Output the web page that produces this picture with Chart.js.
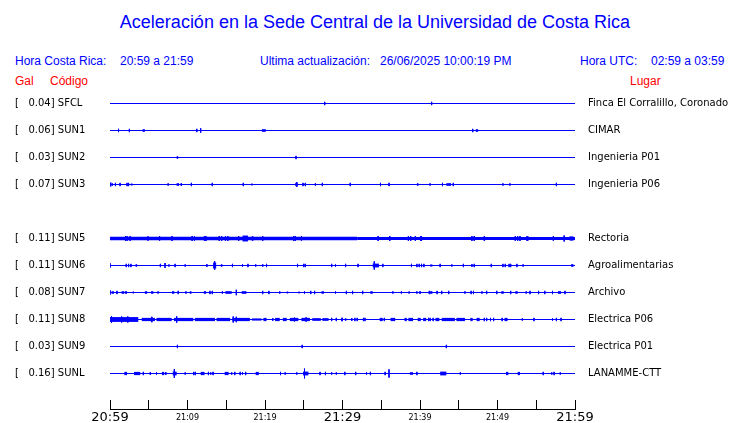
<!DOCTYPE html>
<html><head><meta charset="utf-8">
<script src="https://cdn.jsdelivr.net/npm/chart.js@4.4.1/dist/chart.umd.min.js"></script>
<style>
html,body{margin:0;padding:0;background:#fff;}
#wrap{position:relative;width:740px;height:423px;overflow:hidden;font-family:'Liberation Sans',Arial,sans-serif;}
#c{position:absolute;left:0;top:0;}
.t{position:absolute;white-space:pre;font-size:12px;line-height:12px;color:#0000ff;}
.r{color:#ff0000;}
#title{position:absolute;left:5px;width:740px;text-align:center;top:13px;font-size:18px;line-height:18px;color:#0000ff;white-space:pre;}
</style></head><body>
<div id="wrap">
<div id="title"></div>
<div class="t" style="left:15px;top:55px">Hora Costa Rica:</div>
<div class="t" id="loc" style="left:120px;top:55px"></div>
<div class="t" style="left:260px;top:55px">Ultima actualización:</div>
<div class="t" id="upd" style="left:380px;top:55px"></div>
<div class="t" style="left:580px;top:55px">Hora UTC:</div>
<div class="t" id="utc" style="left:651px;top:55px"></div>
<div class="t r" style="left:15px;top:75px">Gal</div>
<div class="t r" style="left:50px;top:75px">Código</div>
<div class="t r" style="left:630px;top:75px">Lugar</div>
<canvas id="c" width="740" height="423"></canvas>
</div>
<script>
// ---------- DATA ----------
const chartTitle = 'Aceleración en la Sede Central de la Universidad de Costa Rica';
const localRange = '20:59 a 21:59';
const lastUpdate = '26/06/2025 10:00:19 PM';
const utcRange = '02:59 a 03:59';
const timeLabels = ['20:59','21:09','21:19','21:29','21:39','21:49','21:59'];

const codes  = ['SFCL','SUN1','SUN2','SUN3','SUN4','SUN5','SUN6','SUN7','SUN8','SUN9','SUNL'];
const gal    = [0.04, 0.06, 0.03, 0.07, null, 0.11, 0.11, 0.08, 0.11, 0.03, 0.16];
const places = ['Finca El Corralillo, Coronado','CIMAR','Ingenieria P01','Ingenieria P06','',
                'Rectoria','Agroalimentarias','Archivo','Electrica P06','Electrica P01','LANAMME-CTT'];

// spikes: [minute, amplitude]; bursts: [startMinute, endMinute, amplitude]
const spikesSFCL = [[27.7,0.6],[41.5,0.6]];
const burstsSFCL = [];
const spikesSUN1 = [[1.1,0.6],[2.5,0.6],[11.2,0.6],[11.7,0.8],[46.8,0.6]];
const burstsSUN1 = [[4.2,4.5,0.5],[19.6,20.1,0.5],[47.2,47.5,0.5]];
const spikesSUN2 = [[24.0,0.6]];
const burstsSUN2 = [[8.6,8.8,0.5]];
const spikesSUN3 = [[0.1,0.7],[0.3,0.4],[0.7,0.6],[1.3,0.6],[2.2,0.6],[2.4,0.6],[7.5,0.4],[9.2,0.5],[10.5,0.6],[13.2,0.6],[17.2,0.6],[24.1,0.9],[24.9,0.6],[25.2,0.6],[26.5,0.4],[27.4,0.6],[31.0,0.6],[34.9,0.6],[36.0,0.6],[41.3,0.4],[42.9,0.6],[44.3,0.6],[50.7,0.4],[51.6,0.4],[57.6,0.6]];
const burstsSUN3 = [[2.7,2.9,0.4],[8.6,8.9,0.5],[18.2,18.4,0.4],[23.9,24.2,0.6],[39.6,39.8,0.5],[43.4,44.0,0.5]];
const spikesSUN4 = [];
const burstsSUN4 = [];
const spikesSUN5 = [[2.0,0.9],[2.2,0.9],[2.6,0.9],[4.9,0.8],[6.4,0.8],[8.0,0.9],[10.6,0.9],[10.9,0.8],[14.1,0.9],[14.4,0.9],[14.9,0.9],[15.2,0.9],[16.6,0.9],[19.7,0.9],[23.7,0.9],[23.9,0.9],[24.7,0.8],[34.6,0.9],[38.5,0.9],[38.8,0.9],[39.4,0.9],[40.1,0.9],[40.2,0.9],[46.7,0.9],[47.0,0.9],[52.3,0.9],[52.6,0.9],[52.9,0.9],[57.2,0.8],[58.6,1.1]];
const burstsSUN5 = [[0,31.9,0.65],[31.9,60,0.55],[12.1,12.5,0.9],[17.1,17.8,1.1],[18.3,18.5,0.9],[36.0,36.2,0.9],[48.2,48.4,0.9],[53.7,54.0,0.9],[59.3,59.8,0.8]];
const spikesSUN6 = [[0.0,0.8],[2.1,0.6],[2.4,0.6],[2.7,0.6],[6.5,0.6],[7.1,0.9],[8.4,0.6],[9.7,0.4],[12.5,0.5],[13.5,1.6],[15.8,0.6],[17.1,0.4],[17.8,0.6],[18.8,0.4],[20.2,0.6],[24.2,0.6],[25.0,0.6],[25.2,0.6],[28.6,0.6],[29.1,0.4],[30.4,0.6],[32.0,0.6],[34.1,1.5],[35.2,0.6],[38.9,0.6],[39.6,0.6],[39.9,0.6],[40.2,0.6],[40.5,0.6],[42.6,0.6],[45.6,0.6],[46.7,0.5],[47.0,0.6],[49.2,0.6],[50.7,0.6],[51.0,0.6],[51.5,0.6],[51.7,0.6],[52.5,0.6],[53.3,0.4]];
const burstsSUN6 = [[3.3,3.5,0.5],[7.5,7.7,0.5],[13.3,13.7,1.1],[14.3,14.5,0.5],[19.6,19.8,0.5],[33.9,34.7,0.7],[41.3,41.6,0.4],[44.0,44.2,0.5],[59.5,59.8,0.5]];
const spikesSUN7 = [[0.0,0.8],[0.9,0.6],[3.0,0.3],[6.2,0.4],[8.8,0.6],[9.8,0.4],[12.9,0.6],[13.2,0.6],[14.5,0.4],[16.3,1.0],[19.7,0.6],[20.5,0.6],[21.9,0.4],[25.1,0.4],[25.9,0.6],[26.4,0.6],[29.1,0.4],[30.5,0.6],[31.3,0.6],[32.6,0.6],[36.5,0.4],[37.6,0.4],[39.6,0.4],[40.0,0.5],[41.2,0.6],[42.2,0.6],[42.8,0.6],[43.7,0.6],[45.8,0.4],[46.6,0.6],[46.9,0.6],[48.0,0.4],[48.6,0.6],[49.9,0.6],[51.7,0.6],[53.7,0.4],[54.2,0.6],[55.3,0.6],[56.1,0.6],[57.1,0.6],[58.7,0.6]];
const burstsSUN7 = [[0.2,0.5,0.5],[1.5,1.8,0.5],[1.9,2.2,0.5],[4.5,4.8,0.5],[5.3,5.6,0.5],[8.0,8.3,0.5],[10.3,10.5,0.5],[12.1,12.4,0.5],[14.9,15.7,0.5],[17.0,17.6,0.5],[22.8,23.0,0.4],[24.3,24.5,0.4],[27.3,27.6,0.5],[33.6,33.9,0.5],[38.5,38.7,0.5],[41.3,41.6,0.5],[50.5,50.8,0.5],[52.3,52.6,0.5],[57.8,58.2,0.5]];
const spikesSUN8 = [[0.2,1.2],[1.5,1.1],[2.3,1.1],[5.4,1.0],[8.6,1.2],[15.9,1.1],[16.3,1.0],[21.0,0.5],[23.8,0.7],[25.3,0.8],[28.6,0.6],[29.2,0.6],[29.9,0.6],[30.0,0.6],[31.6,0.6],[31.9,0.6],[32.7,0.6],[32.9,0.6],[35.4,0.6],[41.1,0.6],[41.3,0.6],[41.7,0.6],[48.3,0.6],[48.6,0.6],[49.1,0.6],[49.5,0.6],[50.6,0.6],[53.2,0.4],[54.7,0.6],[57.1,0.4],[57.6,0.6],[58.2,0.6]];
const burstsSUN8 = [[0.0,3.65,0.9],[4.1,5.8,0.6],[6.0,7.95,0.6],[8.25,10.75,0.6],[10.95,13.55,0.6],[13.75,15.5,0.6],[15.8,18.05,0.6],[18.3,19.55,0.4],[19.8,20.2,0.6],[21.3,21.9,0.6],[22.3,22.8,0.6],[23.2,24.3,0.6],[24.7,25.8,0.6],[26.1,27.2,0.5],[27.4,28.2,0.5],[30.3,30.5,0.5],[31.1,31.3,0.6],[34.8,35.2,0.6],[36.2,36.8,0.6],[38.0,38.3,0.6],[38.5,39.1,0.6],[39.7,40.1,0.6],[40.4,40.8,0.6],[42.0,42.5,0.6],[42.8,44.5,0.6],[44.7,45.8,0.6],[46.5,46.8,0.6],[47.3,47.7,0.6],[50.9,51.3,0.6]];
const spikesSUN9 = [[8.7,0.6],[24.8,0.6],[43.4,0.6]];
const burstsSUN9 = [];
const spikesSUNL = [[4.3,0.6],[5.2,0.5],[6.0,0.4],[7.2,0.5],[8.3,1.6],[9.7,0.4],[10.8,0.6],[11.0,0.6],[12.7,0.6],[13.0,0.4],[13.3,0.6],[15.7,0.4],[16.1,0.6],[16.8,0.6],[17.1,0.4],[17.5,0.6],[22.0,0.6],[22.6,0.4],[24.1,0.4],[25.1,1.8],[27.1,0.6],[27.8,0.6],[28.6,0.4],[29.2,0.4],[30.3,0.6],[31.7,0.6],[33.1,0.4],[33.6,0.6],[35.5,0.6],[36.0,1.5],[39.6,0.6],[45.2,0.4],[55.9,0.6],[57.0,0.4],[57.3,0.6],[58.1,0.4]];
const burstsSUNL = [[1.85,2.2,0.6],[3.1,3.9,0.6],[6.7,7.0,0.6],[8.1,8.6,0.7],[11.7,12.2,0.6],[14.8,15.3,0.6],[18.8,19.2,0.6],[24.9,25.6,0.7],[38.7,39.1,0.5],[42.6,43.4,0.7],[51.1,51.4,0.6],[52.6,52.9,0.6]];

const allSpikes = [spikesSFCL,spikesSUN1,spikesSUN2,spikesSUN3,spikesSUN4,spikesSUN5,spikesSUN6,spikesSUN7,spikesSUN8,spikesSUN9,spikesSUNL];
const allBursts = [burstsSFCL,burstsSUN1,burstsSUN2,burstsSUN3,burstsSUN4,burstsSUN5,burstsSUN6,burstsSUN7,burstsSUN8,burstsSUN9,burstsSUNL];

// ---------- LAYOUT / STYLE ----------
document.getElementById('title').textContent = chartTitle;
document.getElementById('loc').textContent = localRange;
document.getElementById('upd').textContent = lastUpdate;
document.getElementById('utc').textContent = utcRange;

const ROW = 10, Y_MIN = -5, Y_MAX = 113.148;
const TOP = 90, BOTTOM = 409;
const PX_PER_UNIT = (BOTTOM - TOP) / (Y_MAX - Y_MIN);
const BLUE = '#0000ff';

const datasets = [];
codes.forEach((code, i) => {
  if (gal[i] === null) return;
  const base = i * ROW;
  datasets.push({data: [{x: 0, y: base}, {x: 60, y: base}], borderWidth: 1});
  const sp = [];
  allSpikes[i].forEach(([t, a]) => { sp.push({x: t, y: base - a}, {x: t, y: base + a}, {x: t, y: null}); });
  datasets.push({data: sp, borderWidth: 1});
  const bd = [], widths = [];
  allBursts[i].forEach(([t0, t1, a]) => {
    bd.push({x: t0, y: base}, {x: t1, y: base}, {x: t1, y: null});
    const w = 2 * a * PX_PER_UNIT;
    widths.push(w, w, w);
  });
  datasets.push({data: bd, borderWidth: 1, segment: {borderWidth: ctx => widths[ctx.p0DataIndex]}});
});
datasets.forEach(d => Object.assign(d, {borderColor: BLUE, pointRadius: 0, fill: false, tension: 0, spanGaps: false, borderCapStyle: 'butt', yAxisID: 'y'}));

const rowTicks = scale => { scale.ticks = codes.map((c, i) => gal[i] === null ? null : {value: i * ROW}).filter(Boolean); };
const rowIdx = v => Math.round(v / ROW);
const noPad = s => { s.paddingTop = 0; s.paddingBottom = 0; s.paddingLeft = 0; s.paddingRight = 0; };

new Chart(document.getElementById('c'), {
  type: 'line',
  data: {datasets},
  options: {
    responsive: false, animation: false, events: [],
    layout: {padding: {left: 15, top: TOP, right: 0, bottom: 0}},
    plugins: {legend: {display: false}, tooltip: {enabled: false}, title: {display: false}},
    scales: {
      x: {
        type: 'linear', min: 0, max: 60,
        afterFit: s => { s.height = 423 - BOTTOM; noPad(s); },
        border: {display: true, color: '#000', width: 1},
        grid: {display: true, drawOnChartArea: false, drawTicks: true, tickLength: -9, color: '#000', lineWidth: 1},
        afterBuildTicks: s => { const t = []; for (let m = 0; m <= 60; m += 5) t.push({value: m}); s.ticks = t; },
        ticks: {
          autoSkip: false, maxRotation: 0, padding: 10, color: '#000',
          callback: v => (v % 10 === 0 ? timeLabels[v / 10] : ''),
          font: ctx => (ctx.tick && ctx.tick.value % 30 === 0)
            ? {family: 'DejaVu Sans', size: 13, lineHeight: '16px'}
            : {family: 'DejaVu Sans', size: 8, lineHeight: '16px'}
        }
      },
      y: {
        type: 'linear', position: 'left', reverse: true, min: Y_MIN, max: Y_MAX,
        afterFit: s => { s.width = 95; noPad(s); },
        afterBuildTicks: rowTicks,
        border: {display: false}, grid: {display: false, drawTicks: false, tickLength: 0},
        ticks: {
          autoSkip: false, crossAlign: 'far', padding: 0, color: '#000',
          font: {family: 'DejaVu Sans', size: 10},
          callback: v => { const i = rowIdx(v); return '[' + gal[i].toFixed(2).padStart(7, ' ') + '] ' + codes[i]; }
        }
      },
      y2: {
        type: 'linear', position: 'right', reverse: true, min: Y_MIN, max: Y_MAX,
        afterFit: s => { s.width = 165; noPad(s); },
        afterBuildTicks: rowTicks,
        border: {display: false}, grid: {display: false, drawTicks: false, tickLength: 0},
        ticks: {
          autoSkip: false, crossAlign: 'near', padding: 13, color: '#000',
          font: {family: 'DejaVu Sans', size: 10},
          callback: v => places[rowIdx(v)]
        }
      }
    }
  }
});
</script>
</body></html>
